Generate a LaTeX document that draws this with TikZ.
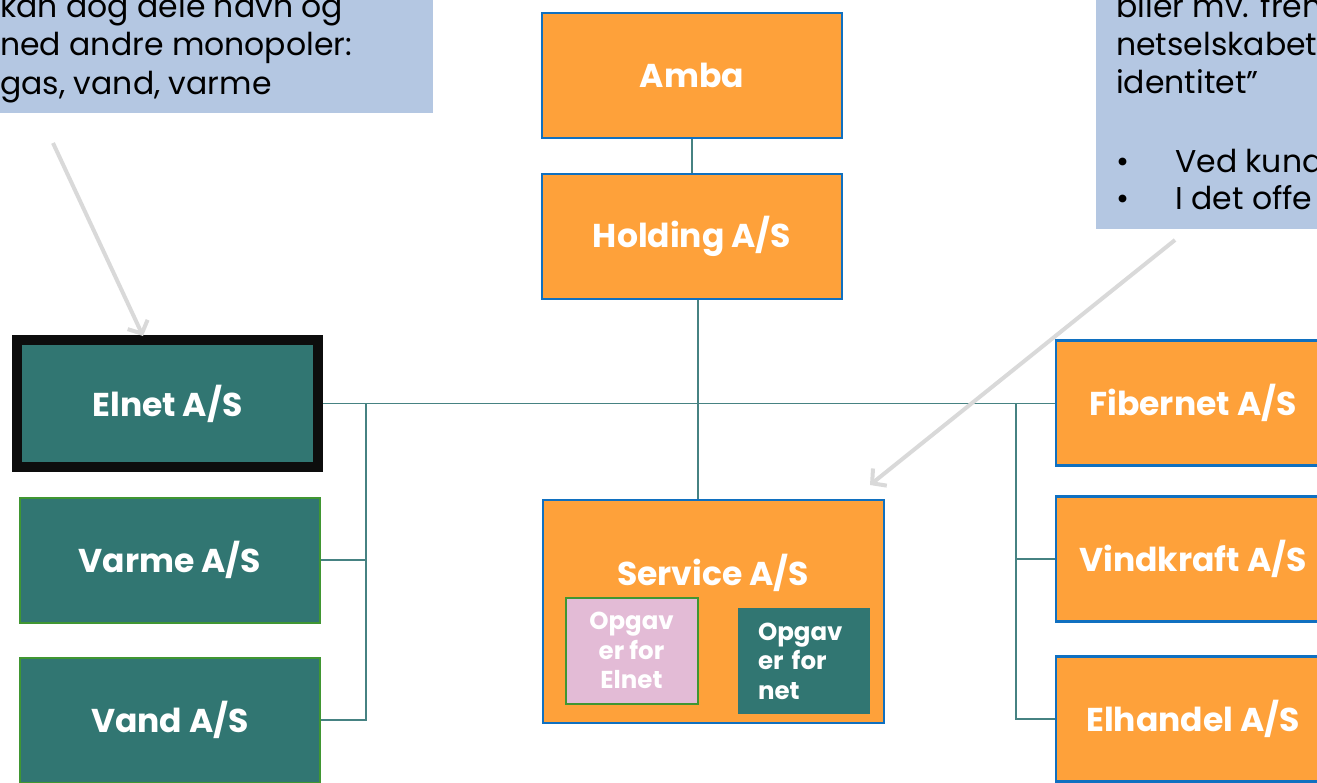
\documentclass[tikz,border=0pt]{standalone}
\usepackage{fontspec}
\setmainfont{Poppins}
\usetikzlibrary{arrows.meta,positioning}

\definecolor{boxorange}{RGB}{254,161,58}
\definecolor{boxblue}{RGB}{16,112,192}
\definecolor{netteal}{RGB}{49,118,114}
\definecolor{netgreen}{RGB}{64,150,50}
\definecolor{notefill}{RGB}{180,199,226}
\definecolor{linkteal}{RGB}{70,130,130}
\definecolor{pointgray}{RGB}{217,217,217}
\definecolor{taskpink}{RGB}{227,187,214}

\tikzset{
  company/.style={draw=boxblue,fill=boxorange,line width=2.5pt,minimum width=300pt,minimum height=125pt,
    inner sep=0pt,text=white,font=\fontsize{33}{40}\selectfont\bfseries},
  netco/.style={company,draw=netgreen,fill=netteal,line width=2pt},
  task/.style={text=white,font=\fontsize{24.5}{29.5}\selectfont\bfseries,align=center,
    minimum width=132pt,minimum height=106pt,inner sep=0pt},
  link/.style={draw=linkteal,line width=1.3pt},
  pointer/.style={draw=pointgray,line width=4pt,->},
  notetext/.style={anchor=base west,inner sep=0pt,font=\fontsize{31.5}{38}\selectfont}
}

\begin{document}
\begin{tikzpicture}[x=1pt,y=-1pt,>={Straight Barb[length=10pt,width=22pt]}]
  \useasboundingbox (0,0) rectangle (1317,782);
  \clip (0,0) rectangle (1317,782);

  % notes at the top
  \fill[notefill] (-5,-5) rectangle (433,113);
  \fill[notefill] (1096,-5) rectangle (1330,229);
  \node[notetext] (noteA1) at (0,17) {kan dog dele navn og};
  \node[notetext] (noteA2) at (0,55) {ned andre monopoler:};
  \node[notetext] (noteA3) at (0,94) {gas, vand, varme};
  \node[notetext] (noteB1) at (1116,17) {biler mv. fren};
  \node[notetext] (noteB2) at (1116,55) {netselskabet};
  \node[notetext] (noteB3) at (1116,93) {identitet”};
  \node[notetext] (noteB4) at (1116,172) {\makebox[59pt][l]{•}Ved kund};
  \node[notetext] (noteB5) at (1116,209) {\makebox[59pt][l]{•}I det offe};

  % companies
  \node[company] (amba) at (692,75.5) {Amba};
  \node[company] (holding) at (692,236.5) {Holding A/S};
  \node[netco,draw=black!95,line width=10pt,minimum width=301pt,minimum height=127pt] (elnet) at (167.5,403.5) {Elnet A/S};
  \node[netco] (varme) at (170,560) {Varme A/S};
  \node[netco] (vand) at (170,720) {Vand A/S};
  \node[company,minimum width=274pt] (fibernet) at (1193,403) {Fibernet A/S};
  \node[company,minimum width=274pt] (vindkraft) at (1193,559) {Vindkraft A/S};
  \node[company,minimum width=274pt] (elhandel) at (1193,719) {Elhandel A/S};
  \node[company,minimum width=341pt,minimum height=223pt] (service) at (713.5,611.5) {};
  \node[inner sep=0pt,text=white,font=\fontsize{33}{40}\selectfont\bfseries] (servicename) at (713,573) {Service A/S};
  \node[task,draw=netgreen,line width=2pt,fill=taskpink] (taskelnet) at (631.5,650.5) {Opgav\\er for\\Elnet};
  \node[task,fill=netteal,align=left,text width=92pt] (tasknet) at (804,661) {Opgav\\er for\\net};

  % lines
  \coordinate (hub) at (698,403);
  \coordinate (leftbus) at (366,403);
  \coordinate (rightbus) at (1016,403);
  \path[link] (amba) -- (holding);
  \path[link] (holding.south -| hub) -- (hub |- service.north);
  \path[link] (elnet.east) -- (fibernet.west |- elnet.east);
  \path[link] (leftbus) -- (leftbus |- vand.east) -- (vand.east);
  \path[link] (leftbus |- varme.east) -- (varme.east);
  \path[link] (rightbus) -- (rightbus |- elhandel.west) -- (elhandel.west);
  \path[link] (rightbus |- vindkraft.west) -- (vindkraft.west);

  % pointers from the notes
  \coordinate (noteAfoot) at (53,143);
  \coordinate (elnettip) at (143,336);
  \coordinate (noteBfoot) at (1175,240);
  \coordinate (servicetip) at (870,485);
  \path[pointer] (noteAfoot) -- (elnettip);
  \path[pointer] (noteBfoot) -- (servicetip);
\end{tikzpicture}
\end{document}
